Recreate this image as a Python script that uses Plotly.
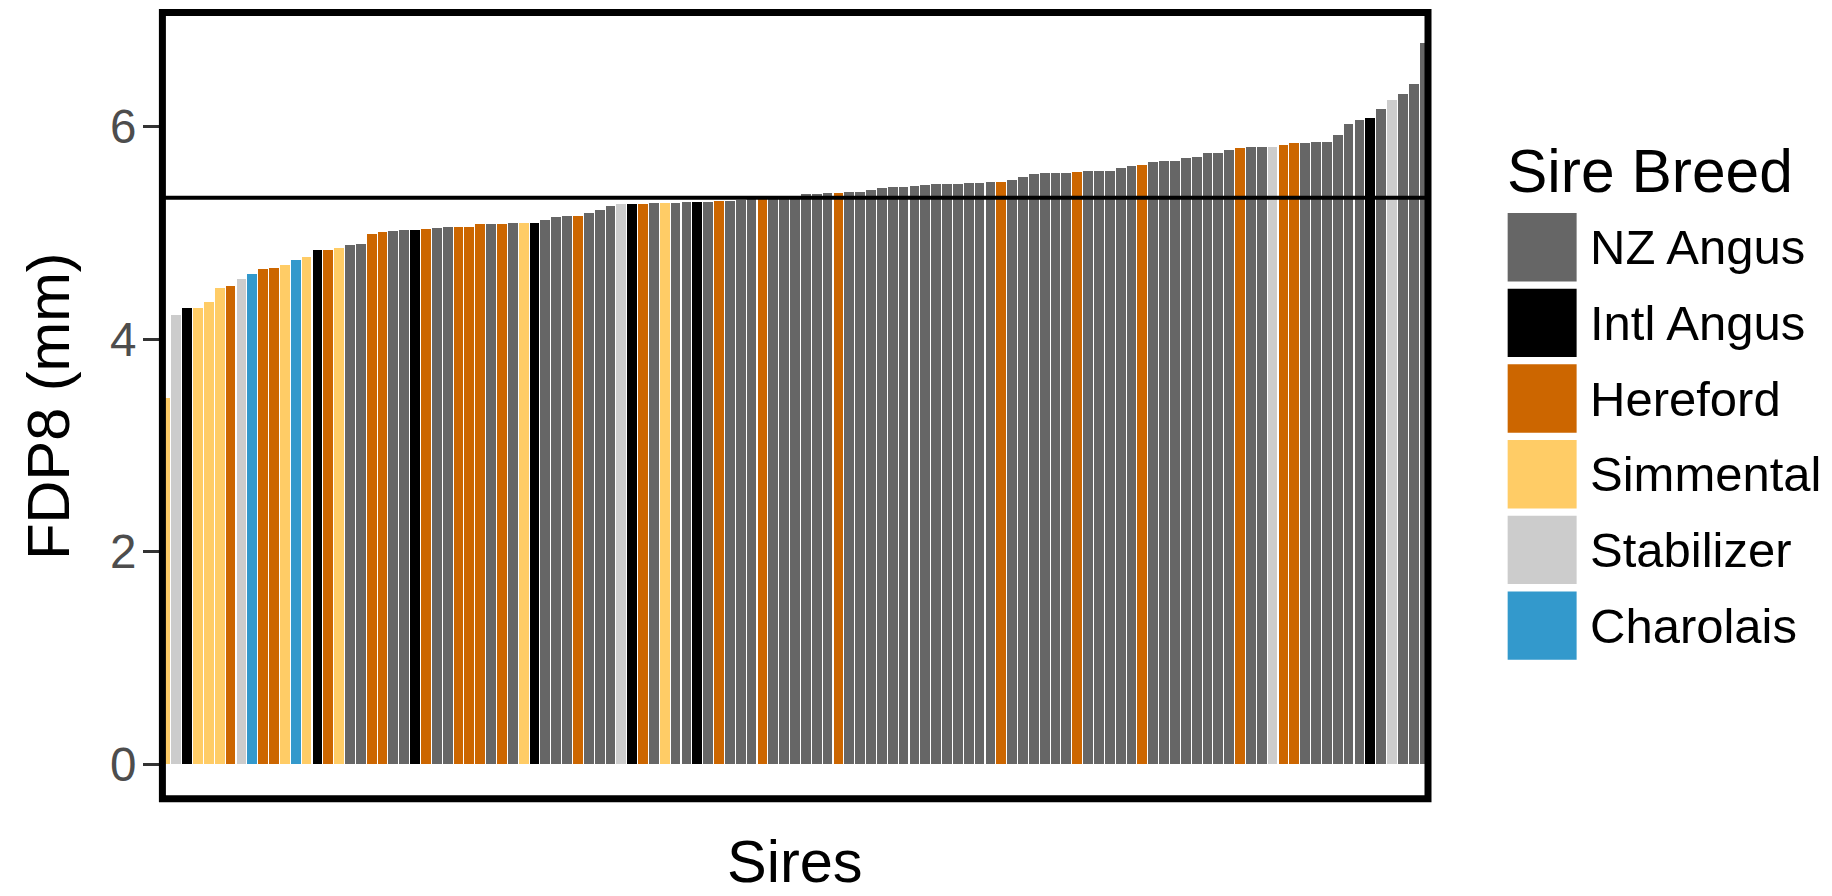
import plotly.graph_objects as go

# ---------------- data ----------------
BREEDS = ["NZ Angus", "Intl Angus", "Hereford", "Simmental", "Stabilizer", "Charolais"]
BREED_COLORS = ["#666666", "#000000", "#CC6600", "#FFCC66", "#CCCCCC", "#3399CC"]
CODE = {"NZ": "NZ Angus", "IA": "Intl Angus", "HE": "Hereford",
        "SI": "Simmental", "ST": "Stabilizer", "CH": "Charolais"}

SIRE_BREED = [
    "SI", "ST", "IA", "SI", "SI", "SI", "HE", "ST", "CH", "HE",
    "HE", "SI", "CH", "SI", "IA", "HE", "SI", "NZ", "NZ", "HE",
    "HE", "NZ", "NZ", "IA", "HE", "NZ", "NZ", "HE", "HE", "HE",
    "NZ", "HE", "NZ", "SI", "IA", "NZ", "NZ", "NZ", "HE", "NZ",
    "NZ", "NZ", "ST", "IA", "HE", "NZ", "SI", "NZ", "NZ", "IA",
    "NZ", "HE", "NZ", "NZ", "NZ", "HE", "NZ", "NZ", "NZ", "NZ",
    "NZ", "NZ", "HE", "NZ", "NZ", "NZ", "NZ", "NZ", "NZ", "NZ",
    "NZ", "NZ", "NZ", "NZ", "NZ", "NZ", "NZ", "HE", "NZ", "NZ",
    "NZ", "NZ", "NZ", "NZ", "HE", "NZ", "NZ", "NZ", "NZ", "NZ",
    "HE", "NZ", "NZ", "NZ", "NZ", "NZ", "NZ", "NZ", "NZ", "HE",
    "NZ", "NZ", "ST", "HE", "HE", "NZ", "NZ", "NZ", "NZ", "NZ",
    "NZ", "IA", "NZ", "ST", "NZ", "NZ", "NZ",
]

FDP8 = [
    3.447, 4.231, 4.297, 4.290, 4.347, 4.479, 4.501, 4.567, 4.611, 4.661,
    4.670, 4.698, 4.745, 4.770, 4.836, 4.839, 4.858, 4.883, 4.893, 4.987,
    5.006, 5.015, 5.024, 5.031, 5.034, 5.046, 5.056, 5.056, 5.058, 5.084,
    5.087, 5.087, 5.090, 5.097, 5.097, 5.125, 5.150, 5.162, 5.162, 5.191,
    5.215, 5.257, 5.269, 5.272, 5.275, 5.278, 5.281, 5.281, 5.294, 5.294,
    5.294, 5.300, 5.304, 5.310, 5.315, 5.318, 5.320, 5.325, 5.330, 5.363,
    5.368, 5.374, 5.379, 5.382, 5.388, 5.404, 5.423, 5.429, 5.429, 5.445,
    5.454, 5.464, 5.464, 5.464, 5.467, 5.473, 5.476, 5.476, 5.501, 5.523,
    5.551, 5.560, 5.561, 5.564, 5.573, 5.580, 5.583, 5.583, 5.608, 5.627,
    5.642, 5.664, 5.674, 5.677, 5.705, 5.714, 5.749, 5.749, 5.777, 5.799,
    5.810, 5.810, 5.810, 5.831, 5.843, 5.849, 5.852, 5.859, 5.925, 6.028,
    6.059, 6.084, 6.163, 6.254, 6.304, 6.404, 6.784,
]

REF_LINE = 5.33
Y_TICKS = [0, 2, 4, 6]
Y_TICK_LABELS = ["0", "2", "4", "6"]
X_TITLE = "Sires"
Y_TITLE = "FDP8 (mm)"
LEGEND_TITLE = "Sire Breed"

# ---------------- layout geometry (pixels) ----------------
W, H = 1832, 896
L, R, T, B = 159.6, 1430.3, 10.6, 800.9
FONT = "Liberation Sans, Arial, Helvetica, sans-serif"
BASE = 59.5
LEG_TITLE_SIZE = 60.5
LEG_TEXT_SIZE = 49
TICK_SIZE = 47.6


def pxx(px):
    return (px - L) / (R - L)


def pxy(py):
    return (B - py) / (B - T)


n = len(FDP8)
positions = list(range(1, n + 1))

fig = go.Figure()
for breed, color in zip(BREEDS, BREED_COLORS):
    xs = [p for p, b in zip(positions, SIRE_BREED) if CODE[b] == breed]
    ys = [v for v, b in zip(FDP8, SIRE_BREED) if CODE[b] == breed]
    fig.add_trace(go.Bar(
        x=xs, y=ys, name=breed, width=0.9,
        marker=dict(color=color, line=dict(width=0)),
        showlegend=False,
    ))

shapes = []
# reference line
shapes.append(dict(type="line", xref="paper", yref="y", x0=0, x1=1,
                   y0=REF_LINE, y1=REF_LINE, line=dict(color="black", width=4),
                   layer="above"))
# panel border
shapes.append(dict(type="rect", xref="paper", yref="paper",
                   x0=pxx(162.0), x1=pxx(1428.3), y0=pxy(798.6), y1=pxy(12.0),
                   line=dict(color="black", width=7), fillcolor="rgba(0,0,0,0)",
                   layer="above"))

annotations = []
# axis titles
annotations.append(dict(text=Y_TITLE, xref="paper", yref="paper",
                        x=pxx(47.4), y=pxy(405.75), textangle=-90,
                        xanchor="center", yanchor="middle", showarrow=False,
                        borderpad=0,
                        font=dict(family=FONT, size=BASE, color="black")))
annotations.append(dict(text=X_TITLE, xref="paper", yref="paper",
                        x=pxx(795.0), y=pxy(861.0),
                        xanchor="center", yanchor="middle", showarrow=False,
                        borderpad=0,
                        font=dict(family=FONT, size=BASE, color="black")))
# custom legend
annotations.append(dict(text=LEGEND_TITLE, xref="paper", yref="paper",
                        x=pxx(1505.0), y=pxy(170.5),
                        xanchor="left", yanchor="middle", showarrow=False,
                        font=dict(family=FONT, size=LEG_TITLE_SIZE, color="black")))
KEY_TOP0, KEY_PITCH, KEY_H = 212.7, 75.7, 68.4
for i, (breed, color) in enumerate(zip(BREEDS, BREED_COLORS)):
    top = KEY_TOP0 + i * KEY_PITCH
    shapes.append(dict(type="rect", xref="paper", yref="paper",
                       x0=pxx(1508.0), x1=pxx(1577.0),
                       y0=pxy(top + KEY_H), y1=pxy(top),
                       line=dict(width=0), fillcolor=color, layer="above"))
    annotations.append(dict(text=breed, xref="paper", yref="paper",
                            x=pxx(1588.5), y=pxy(top + KEY_H / 2),
                            xanchor="left", yanchor="middle", showarrow=False,
                            font=dict(family=FONT, size=LEG_TEXT_SIZE, color="black")))

fig.update_layout(
    width=W, height=H,
    margin=dict(l=L, r=W - R, t=T, b=H - B, pad=0, autoexpand=False),
    paper_bgcolor="white", plot_bgcolor="white",
    barmode="overlay", bargap=0,
    font=dict(family=FONT),
    shapes=shapes, annotations=annotations,
    xaxis=dict(range=[0.5, n + 0.5], showticklabels=False, ticks="",
               showgrid=False, zeroline=False, showline=False,
               automargin=False, fixedrange=True),
    yaxis=dict(range=[-0.346, 7.088], tickvals=Y_TICKS, ticktext=Y_TICK_LABELS,
               ticks="outside", ticklen=16, tickwidth=3, tickcolor="#333333",
               ticklabelstandoff=-3,
               tickfont=dict(family=FONT, size=TICK_SIZE, color="#4D4D4D"),
               showgrid=False, zeroline=False, showline=False,
               automargin=False, fixedrange=True),
)

fig.write_html(
    "out.html",
    config={"displayModeBar": False},
    post_script="document.body.style.margin='0';document.body.style.overflow='hidden';",
)
